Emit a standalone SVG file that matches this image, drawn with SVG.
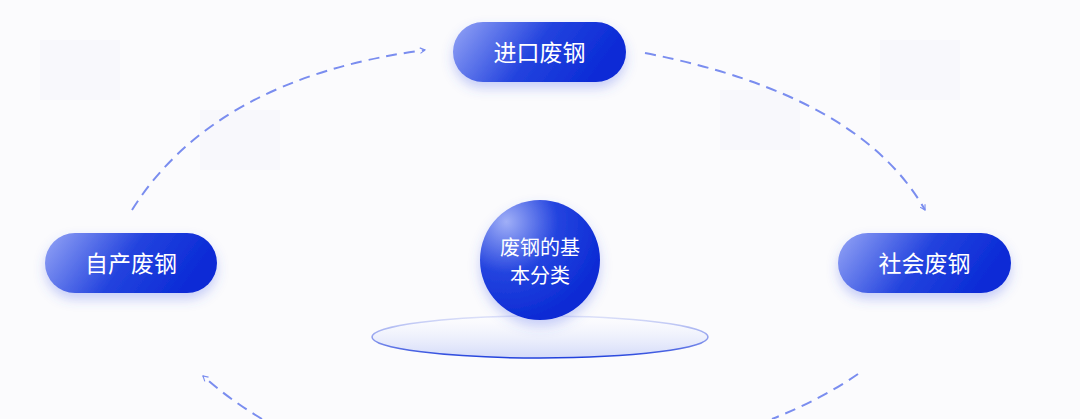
<svg xmlns="http://www.w3.org/2000/svg" width="1080" height="419" viewBox="0 0 1080 419">
<defs>
<style>
.lbl{font-family:"Noto Sans CJK SC","Noto Sans",sans-serif;fill:#ffffff;text-anchor:middle}
.conn{fill:none;stroke:#7a8def;stroke-width:2;stroke-dasharray:11 7}
.tile{fill:#f5f6f9}
</style>
<radialGradient id="pill" cx="0.12" cy="0.15" r="0.75" gradientTransform="translate(0.06 0.075) scale(0.5 1) translate(-0.06 -0.075)">
<stop offset="0" stop-color="#a3b1f7"/>
<stop offset="1" stop-color="#0b2bd6"/>
</radialGradient>
<linearGradient id="pill2" x1="0" y1="0" x2="1" y2="0.25">
<stop offset="0" stop-color="#95a5f6"/>
<stop offset="0.55" stop-color="#2343de"/>
<stop offset="1" stop-color="#0a2ad6"/>
</linearGradient>
<radialGradient id="ball" cx="0.22" cy="0.18" r="0.85">
<stop offset="0" stop-color="#a0aff7"/>
<stop offset="0.5" stop-color="#2444df"/>
<stop offset="1" stop-color="#0a2ad4"/>
</radialGradient>
<linearGradient id="disc" x1="0" y1="0" x2="0" y2="1">
<stop offset="0" stop-color="#ffffff" stop-opacity="0.5"/>
<stop offset="1" stop-color="#d3daf9"/>
</linearGradient>
<linearGradient id="discStroke" x1="0" y1="0" x2="0" y2="1">
<stop offset="0" stop-color="#3550e0" stop-opacity="0.15"/>
<stop offset="0.6" stop-color="#3550e0" stop-opacity="0.6"/>
<stop offset="1" stop-color="#2040dc"/>
</linearGradient>
<filter id="sh" x="-30%" y="-40%" width="160%" height="190%">
<feDropShadow dx="0" dy="6" stdDeviation="6" flood-color="#4a62ea" flood-opacity="0.3"/>
</filter>
<marker id="arr" viewBox="0 0 10 10" refX="8" refY="5" markerWidth="7" markerHeight="7" orient="auto" markerUnits="userSpaceOnUse">
<path d="M1,1 L8,5 L1,9" fill="none" stroke="#7a8def" stroke-width="1.6"/>
</marker>
</defs>
<rect width="1080" height="419" fill="#fbfbfd"/>
<g id="background">
<rect class="tile" x="40" y="40" width="80" height="60" opacity="0.4"/>
<rect class="tile" x="200" y="110" width="80" height="60" opacity="0.4"/>
<rect class="tile" x="720" y="90" width="80" height="60" opacity="0.4"/>
<rect class="tile" x="880" y="40" width="80" height="60" opacity="0.4"/>
</g>
<g id="connectors">
<path class="conn" d="M132,210 Q215,78 425,50" marker-end="url(#arr)"/>
<path class="conn" d="M645,53 Q860,95 925,210" marker-end="url(#arr)"/>
<path class="conn" d="M858,374 Q820,400 772,419"/>
<path class="conn" d="M262,419 Q230,400 203,376" marker-end="url(#arr)"/>
</g>
<g id="platform">
<ellipse cx="540" cy="337" rx="168" ry="21" fill="url(#disc)" stroke="url(#discStroke)" stroke-width="1.5"/>
</g>
<g id="node-center">
<circle cx="540" cy="260" r="60" fill="url(#ball)" filter="url(#sh)"/>
<text class="lbl" x="540" y="255" font-size="20">废钢的基</text>
<text class="lbl" x="540" y="283" font-size="20">本分类</text>
</g>
<g id="node-import">
<rect x="453" y="22" width="173" height="60" rx="30" fill="url(#pill2)" filter="url(#sh)"/>
<text class="lbl" x="539.5" y="60.5" font-size="23">进口废钢</text>
</g>
<g id="node-self">
<rect x="45" y="233" width="172" height="60" rx="30" fill="url(#pill2)" filter="url(#sh)"/>
<text class="lbl" x="131" y="271.5" font-size="23">自产废钢</text>
</g>
<g id="node-social">
<rect x="838" y="233" width="173" height="60" rx="30" fill="url(#pill2)" filter="url(#sh)"/>
<text class="lbl" x="924.5" y="271.5" font-size="23">社会废钢</text>
</g>
</svg>
